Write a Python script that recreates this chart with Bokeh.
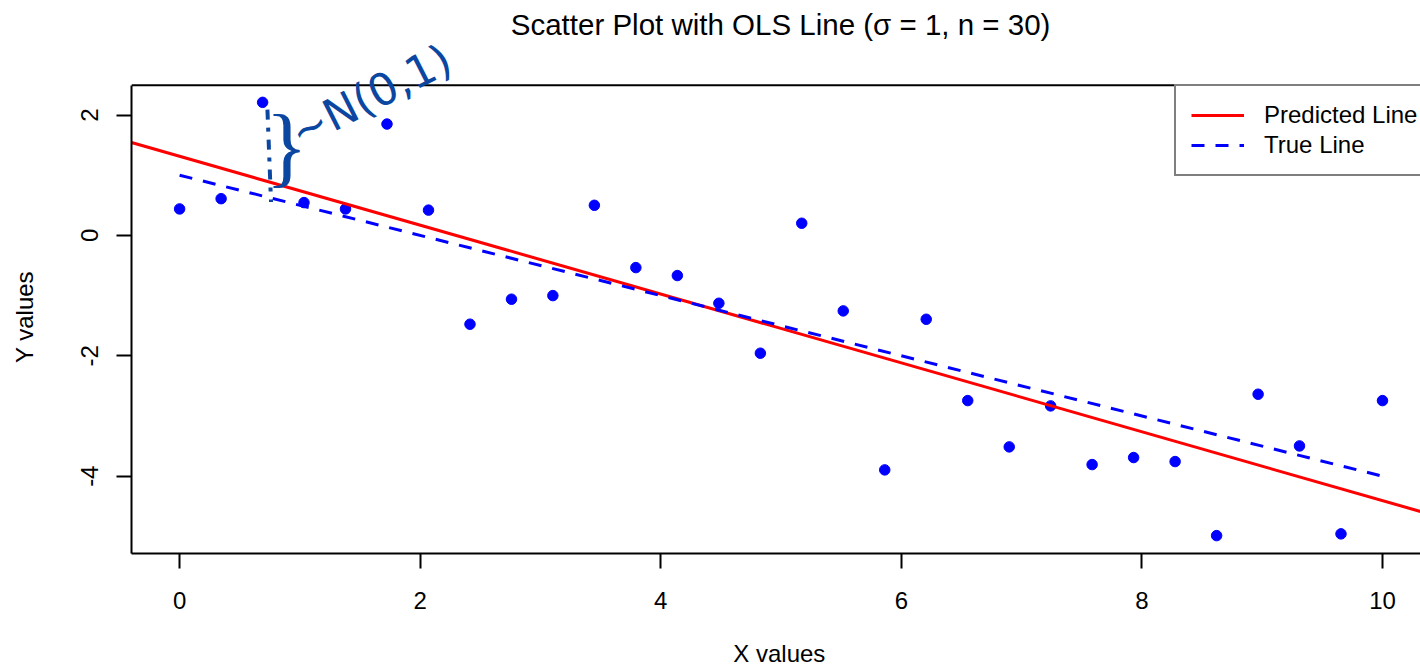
from bokeh.plotting import figure
from bokeh.models import (Range1d, FixedTicker, LinearAxis, Legend, Span,
                          LegendItem, Label, ColumnDataSource)
from bokeh.embed import file_html
from bokeh.resources import INLINE

# ---------------- data ----------------
x_values = [0.000, 0.345, 0.690, 1.034, 1.379, 1.724, 2.069, 2.414, 2.759, 3.103,
            3.448, 3.793, 4.138, 4.483, 4.828, 5.172, 5.517, 5.862, 6.207, 6.552,
            6.897, 7.241, 7.586, 7.931, 8.276, 8.621, 8.966, 9.310, 9.655, 10.000]
y_values = [0.44, 0.61, 2.21, 0.545, 0.44, 1.85, 0.42, -1.475, -1.06, -1.00,
            0.50, -0.535, -0.667, -1.127, -1.957, 0.202, -1.254, -3.895, -1.393, -2.744,
            -3.513, -2.832, -3.807, -3.69, -3.757, -4.987, -2.638, -3.497, -4.958, -2.744]

true_intercept = 1.0
true_slope = -0.5
ols_intercept = 1.314
ols_slope = -0.572

x_ticks = [0, 2, 4, 6, 8, 10]
y_ticks = [-4, -2, 0, 2]

title_text = "Scatter Plot with OLS Line (\u03c3 = 1, n = 30)"
x_label = "X values"
y_label = "Y values"
legend_labels = ["Predicted Line", "True Line"]
annotation_text = "~N(0,1)"

FONT = "Liberation Sans"
ANN_COLOR = "#0b47a1"
NBSP = "\u00a0"

# ---------------- figure ----------------
x_lo, x_hi = -0.4, 10.316
y_lo, y_box_hi = -5.284, 2.493     # plot box
y_hi = 3.902                        # frame extends to the top of the page

p = figure(width=1420, height=671, output_backend="svg", toolbar_location=None,
           x_range=Range1d(x_lo, x_hi), y_range=Range1d(y_lo, y_hi),
           min_border_left=131, min_border_right=0, min_border_top=0,
           min_border_bottom=118, x_axis_location=None, y_axis_location=None)
p.outline_line_color = None
p.xgrid.visible = False
p.ygrid.visible = False
p.background_fill_color = "white"
p.border_fill_color = "white"

# axes (labels padded so they sit centred on the plot box, as in R)
xaxis = LinearAxis(ticker=FixedTicker(ticks=x_ticks), axis_label=NBSP + x_label)
yaxis = LinearAxis(ticker=FixedTicker(ticks=y_ticks), axis_label=y_label + NBSP * 12,
                   bounds=(y_lo, y_box_hi))
for ax in (xaxis, yaxis):
    ax.axis_line_color = "black"
    ax.axis_line_width = 2
    ax.major_tick_line_color = "black"
    ax.major_tick_line_width = 2
    ax.major_tick_out = 15
    ax.major_tick_in = 0
    ax.minor_tick_line_color = None
    ax.major_label_text_font = FONT
    ax.major_label_text_font_size = "24px"
    ax.major_label_text_color = "black"
    ax.axis_label_text_font = FONT
    ax.axis_label_text_font_size = "24px"
    ax.axis_label_text_font_style = "normal"
    ax.axis_label_text_color = "black"
xaxis.major_label_standoff = 23
xaxis.axis_label_standoff = 28
yaxis.major_label_orientation = "vertical"
yaxis.major_label_standoff = 18
yaxis.major_label_overrides = {t: str(t) for t in y_ticks}
yaxis.axis_label_standoff = 41
p.add_layout(xaxis, "below")
p.add_layout(yaxis, "left")

# top edge of the plot box
p.add_layout(Span(location=y_box_hi, dimension="width", line_color="black",
                  line_width=2))

# title
p.add_layout(Label(x=4.996, y=3.503, text=title_text, text_font=FONT,
                   text_font_size="29.5px", text_color="black",
                   text_align="center", text_baseline="middle"))

# ---------------- marks ----------------
src = ColumnDataSource(data=dict(x=x_values, y=y_values))
p.scatter("x", "y", source=src, size=10.5, color="#0000ff", line_color="#0000ff")

line_x = [x_lo - 1, x_hi + 1]
pred = p.line(line_x, [ols_intercept + ols_slope * v for v in line_x],
              line_color="#ff0000", line_width=3)

true_x = [x_values[0], x_values[-1]]
true = p.line(true_x, [true_intercept + true_slope * v for v in true_x],
              line_color="#0000ff", line_width=3, line_dash="13 11")

# ---------------- legend ----------------
legend = Legend(items=[LegendItem(label=legend_labels[0], renderers=[pred]),
                       LegendItem(label=legend_labels[1], renderers=[true])],
                location=(1043, 377))
legend.label_text_font = FONT
legend.label_text_font_size = "24px"
legend.label_text_color = "black"
legend.glyph_width = 53
legend.glyph_height = 20
legend.label_height = 20
legend.label_standoff = 20
legend.padding = 15
legend.spacing = 2
legend.margin = 0
legend.border_line_color = "black"
legend.border_line_width = 2
legend.background_fill_color = "white"
legend.background_fill_alpha = 1.0
p.add_layout(legend, "center")

# ---------------- hand annotation ----------------
k = 2
p.segment(x0=[x_values[k] + 0.04], y0=[y_values[k] - 0.12],
          x1=[x_values[k] + 0.07], y1=[true_intercept + true_slope * x_values[k] - 0.1],
          line_color=ANN_COLOR, line_width=4, line_dash="10 8 4 8")
p.add_layout(Label(x=0.889, y=1.47, text="}", text_font="Liberation Serif",
                   text_font_size="88px", text_color=ANN_COLOR,
                   text_align="center", text_baseline="middle"))
p.add_layout(Label(x=1.588, y=2.32, text=annotation_text, text_font="DejaVu Sans",
                   text_font_size="44px", text_color=ANN_COLOR, angle=0.47,
                   text_align="center", text_baseline="middle"))

open("out.html", "w").write(file_html(p, INLINE))
